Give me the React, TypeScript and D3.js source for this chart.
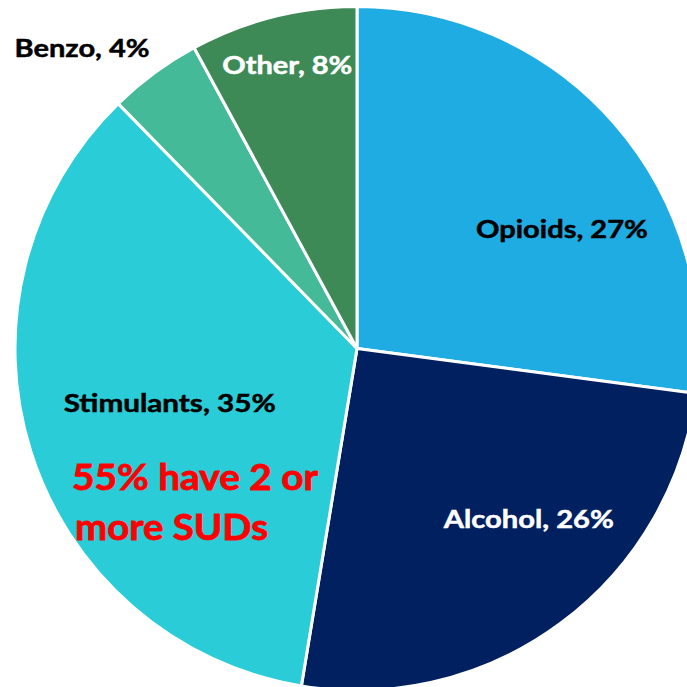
import React from "react";
import * as d3 from "d3";

const categories = ["Opioids", "Alcohol", "Stimulants", "Benzo", "Other"];
// shares; labels show the rounded percentages
const values = [27.1, 25.5, 35.1, 4.4, 7.9];
const colors = ["#1FACE3", "#002060", "#29CCD7", "#45BA98", "#3E8A57"];
const labelColors = ["#000000", "#ffffff", "#000000", "#000000", "#ffffff"];
// label placement: angle (deg, clockwise from top) and radius as fraction of R
const labelAngles = [59.7, 134.7, 253.9, 317.5, 346.2];
const labelRadii = [0.694, 0.707, 0.57, 1.19, 0.855];
const labelWidths = [172, 170, 212, 135, 130];
const noteLines = ["55% have 2 or", "more SUDs"];
const noteWidths = [246, 193];

export default function App() {
  const W = 687;
  const H = 687;
  const cx = 357;
  const cy = 348.5;
  const R = 342;
  const pie = d3
    .pie<number>()
    .sort(null)
    .value((d) => d)(values);
  const arc = d3.arc<d3.PieArcDatum<number>>().innerRadius(0).outerRadius(R);
  const font = "Lato, 'Open Sans', sans-serif";
  return (
    <svg
      width={W}
      height={H}
      style={{ position: "absolute", left: 0, top: 0, background: "#fff" }}
    >
      <g transform={`translate(${cx},${cy})`}>
        {pie.map((p, i) => (
          <path
            key={i}
            d={arc(p) || ""}
            fill={colors[i]}
            stroke="#fff"
            strokeWidth={3}
            strokeLinejoin="round"
          />
        ))}
        {categories.map((c, i) => {
          const a = (labelAngles[i] * Math.PI) / 180;
          const r = labelRadii[i] * R;
          const x = Math.sin(a) * r;
          const y = -Math.cos(a) * r;
          return (
            <text
              key={c}
              x={x}
              y={y}
              dy="0.36em"
              textAnchor="middle"
              fontFamily={font}
              fontWeight={700}
              fontSize={25}
              fill={labelColors[i]}
              stroke={labelColors[i]}
              strokeWidth={0.5}
              textLength={labelWidths[i]}
              lengthAdjust="spacingAndGlyphs"
            >
              {`${c}, ${Math.round(values[i])}%`}
            </text>
          );
        })}
      </g>
      {noteLines.map((t, i) => (
        <text
          key={i}
          x={72 + i * 3}
          y={490 + i * 50}
          fontFamily={font}
          fontWeight={700}
          fontSize={36}
          fill="#FF0000"
          stroke="#FF0000"
          strokeWidth={0.8}
          textLength={noteWidths[i]}
          lengthAdjust="spacingAndGlyphs"
        >
          {t}
        </text>
      ))}
    </svg>
  );
}
